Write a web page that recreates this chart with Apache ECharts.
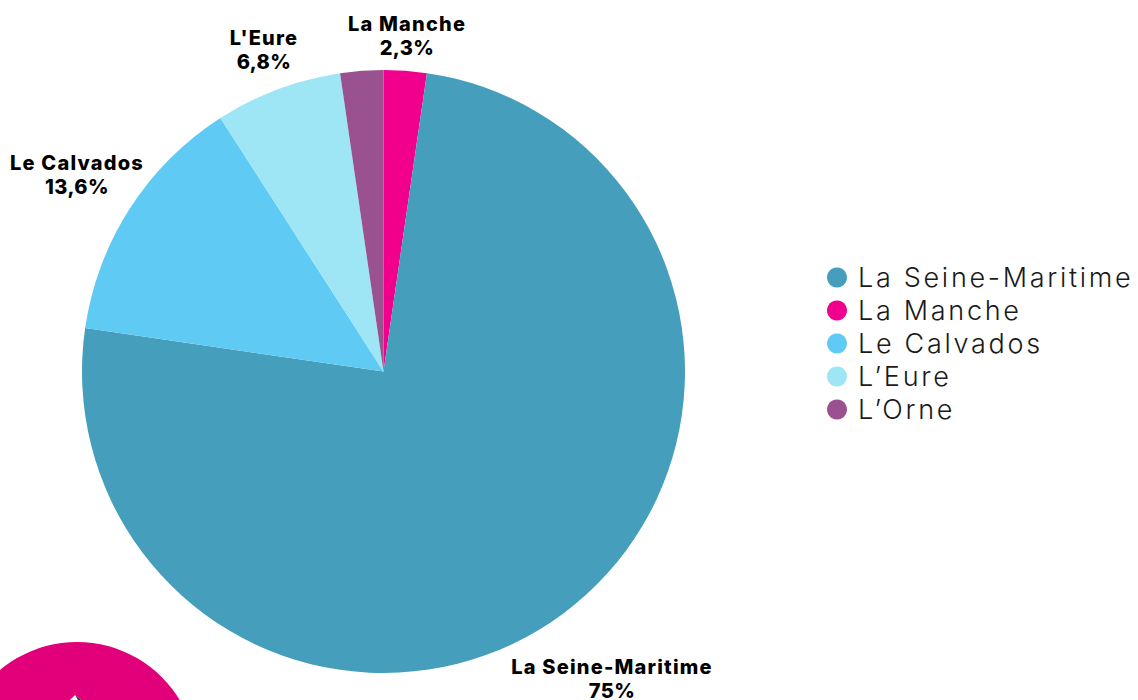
<!DOCTYPE html>
<html><head><meta charset="utf-8">
<style>html,body{margin:0;padding:0;background:#fff}#c{width:1138px;height:700px}
svg text[fill="#1a1a1a"]{letter-spacing:2.7px}
svg text[fill="#000"]{letter-spacing:1.2px}
svg text[fill="#010101"]{letter-spacing:0.4px}</style>
<script src="https://cdn.jsdelivr.net/npm/echarts@6/dist/echarts.min.js"></script>
</head><body><div id="c"></div>
<script>
const sliceNames = ['La Manche','La Seine-Maritime','Le Calvados',"L'Eure","L'Orne"];
const sliceValues = [2.3,75,13.6,6.8,2.3];
const sliceColors = ['#f0008c','#459fbc','#5fcbf5','#9ee5f5','#99528f'];
const legendNames = ['La Seine-Maritime','La Manche','Le Calvados',"L’Eure","L’Orne"];
const legendOrder = [1,0,2,3,4];
const labelled = [true,true,true,true,false];
const labelCentres = [[407,36],[612,679],[77,175],[264,50],null];

const chart = echarts.init(document.getElementById('c'),null,{renderer:'svg',width:1138,height:700});
const labelFont = {fontFamily:'Inter',fontWeight:800,fontSize:20,lineHeight:24};
chart.setOption({
  animation:false,
  backgroundColor:'#fff',
  legend:{
    orient:'vertical',left:827,top:264,padding:0,itemWidth:20,itemHeight:20,itemGap:6,icon:'circle',
    data:legendOrder.map(i=>sliceNames[i]),
    formatter:n=>legendNames[legendOrder.findIndex(i=>sliceNames[i]===n)],
    textStyle:{fontFamily:'Inter',fontSize:27,fontWeight:300,color:'#1a1a1a',padding:[0,0,0,6]}
  },
  graphic:[
    {type:'circle',shape:{cx:77,cy:762,r:120},style:{fill:'#e2007a'},z:1},
    {type:'polygon',shape:{points:[[70,700],[75,695],[81,700]]},style:{fill:'#fff'},z:2},
    {type:'polygon',shape:{points:[[75,695],[78,700],[81,700]]},style:{fill:'#333'},z:3}
  ],
  series:[{
    type:'pie',center:[383.5,371.5],radius:[0,301.5],startAngle:90,clockwise:true,
    labelLine:{show:false},
    emphasis:{disabled:true},
    label:{show:true,position:'outside',overflow:'none',
      formatter:p=>'{n|'+p.name+'}\n{v|'+String(p.value).replace('.',',')+'%}',
      rich:{n:{...labelFont,color:'#000'},v:{...labelFont,color:'#010101'}},
      ...labelFont,color:'#000',align:'center',verticalAlign:'middle'},
    labelLayout:p=>{const c=labelCentres[p.dataIndex];return c?{x:c[0],y:c[1],align:'center',verticalAlign:'middle'}:{};},
    data:sliceNames.map((n,i)=>({name:n,value:sliceValues[i],itemStyle:{color:sliceColors[i]},label:{show:labelled[i]}}))
  }]
});
</script></body></html>
